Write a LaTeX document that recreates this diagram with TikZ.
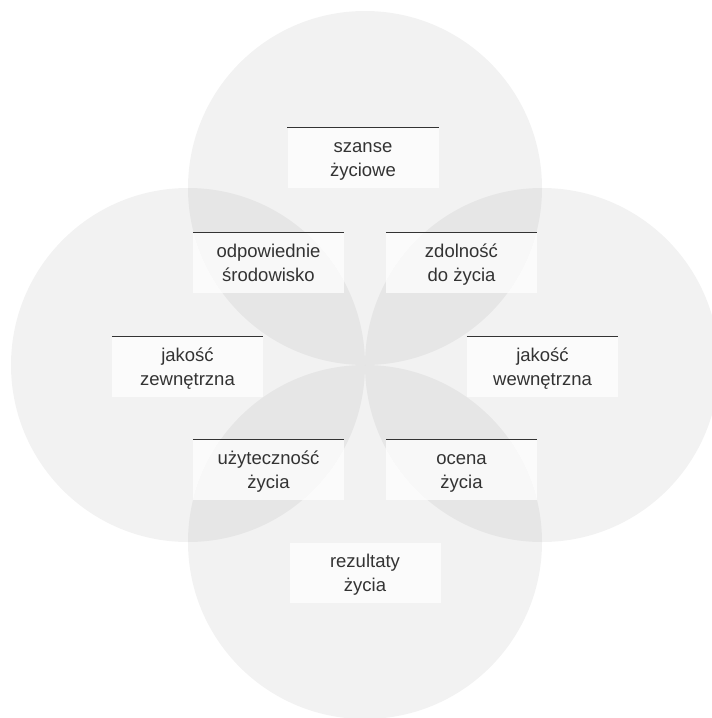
\documentclass[tikz,border=0pt]{standalone}
\usepackage{fontspec}
\setmainfont{Liberation Sans}
\usetikzlibrary{positioning}
\definecolor{inkgray}{HTML}{333333}

\begin{document}
\begin{tikzpicture}[x=1pt, y=-1pt,
    petal/.style={fill=black, fill opacity=0.05},
    lbox/.style={fill=white, fill opacity=0.7, text opacity=1, text=inkgray,
      minimum width=151pt, inner sep=0pt, align=center,
      text height=48.5pt, text depth=12pt,
      font=\fontsize{18.5}{24}\selectfont},
    topline/.style={draw=inkgray, line width=1.3pt}]
  \useasboundingbox (0,0) rectangle (712,718);
  \clip (0,0) rectangle (712,718);

  % Four overlapping circles
  \fill[petal] (365,188) circle (177);
  \fill[petal] (188,365) circle (177);
  \fill[petal] (542,365) circle (177);
  \fill[petal] (365,542) circle (177);

  % Labels
  \node[lbox] (szanse) at (363,158) {szanse\\życiowe};
  \node[lbox] (srodowisko) at (268.5,263) {odpowiednie\\środowisko};
  \node[lbox] (zdolnosc) at (461.5,263) {zdolność\\do życia};
  \node[lbox] (zewn) at (187.5,367) {jakość\\zewnętrzna};
  \node[lbox] (wewn) at (542.5,367) {jakość\\wewnętrzna};
  \node[lbox] (uzytecznosc) at (268.5,470) {użyteczność\\życia};
  \node[lbox] (ocena) at (461.5,470) {ocena\\życia};
  \node[lbox] (rezultaty) at (365,573) {rezultaty\\życia};

  % Rules above the labels
  \foreach \n in {szanse, srodowisko, zdolnosc, zewn, wewn, uzytecznosc, ocena}
    \draw[topline] (\n.north west) -- (\n.north east);
\end{tikzpicture}
\end{document}
